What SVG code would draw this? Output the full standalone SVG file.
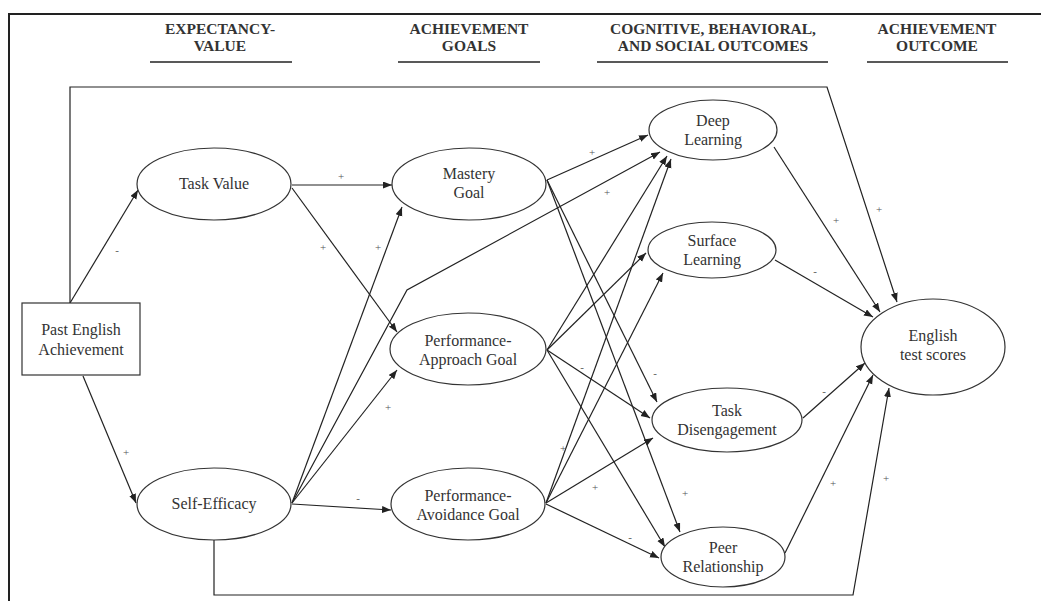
<svg xmlns="http://www.w3.org/2000/svg" width="1041" height="601" viewBox="0 0 1041 601">
  <defs>
    <marker id="arrow" markerUnits="userSpaceOnUse" markerWidth="10" markerHeight="8" refX="9" refY="3.5" orient="auto">
      <path d="M0,0 L9,3.5 L0,7 z" fill="#222"/>
    </marker>
    <style>
      .head { font-family: "Liberation Serif", "Times New Roman", serif; font-size: 15.5px; font-weight: bold; fill: #333; text-anchor: middle; }
      .rule { stroke: #222; stroke-width: 1.6; }
      .node { fill: #fff; stroke: #333; stroke-width: 1.2; }
      .label { font-family: "Liberation Serif", "Times New Roman", serif; font-size: 16px; fill: #333; text-anchor: middle; }
      .sign { font-family: "Liberation Serif", "Times New Roman", serif; font-size: 11px; fill: #555; text-anchor: middle; dominant-baseline: central; }
      .edge { fill: none; stroke: #222; stroke-width: 1.2; marker-end: url(#arrow); }
    </style>
  </defs>

  <rect width="1041" height="601" fill="#fff"/>

  <!-- outer frame -->
  <path d="M9,601 L9,14 L1041,14" fill="none" stroke="#222" stroke-width="2"/>

  <!-- column headings -->
  <g id="headings">
    <text class="head" x="220" y="34">EXPECTANCY-</text>
    <text class="head" x="220" y="51">VALUE</text>
    <line class="rule" x1="150" y1="62" x2="292" y2="62"/>
    <text class="head" x="469" y="34">ACHIEVEMENT</text>
    <text class="head" x="469" y="51">GOALS</text>
    <line class="rule" x1="398" y1="62" x2="540" y2="62"/>
    <text class="head" x="713" y="34">COGNITIVE, BEHAVIORAL,</text>
    <text class="head" x="713" y="51">AND SOCIAL OUTCOMES</text>
    <line class="rule" x1="597" y1="62" x2="828" y2="62"/>
    <text class="head" x="937" y="34">ACHIEVEMENT</text>
    <text class="head" x="937" y="51">OUTCOME</text>
    <line class="rule" x1="867" y1="62" x2="1008" y2="62"/>
  </g>

  <!-- connectors -->
  <g id="connectors">
    <path class="edge" d="M70,303 L138,190"/>
    <path class="edge" d="M83,376 L136,503"/>
    <path class="edge" d="M292,185 L392,185"/>
    <path class="edge" d="M292,188 L397,332"/>
    <path class="edge" d="M292,503 L402,207"/>
    <path class="edge" d="M292,503 L407,290 L660,152"/>
    <path class="edge" d="M292,503 L397,370"/>
    <path class="edge" d="M292,504 L391,510"/>
    <path class="edge" d="M547,180 L648,135"/>
    <path class="edge" d="M547,180 L657,402"/>
    <path class="edge" d="M547,180 L680,532"/>
    <path class="edge" d="M547,350 L667,156"/>
    <path class="edge" d="M547,350 L646,253"/>
    <path class="edge" d="M547,350 L650,418"/>
    <path class="edge" d="M547,350 L665,547"/>
    <path class="edge" d="M546,503 L671,159"/>
    <path class="edge" d="M546,503 L663,273"/>
    <path class="edge" d="M546,503 L653,438"/>
    <path class="edge" d="M546,504 L659,558"/>
    <path class="edge" d="M774,147 L880,312"/>
    <path class="edge" d="M775,260 L873,317"/>
    <path class="edge" d="M803,418 L865,363"/>
    <path class="edge" d="M785,553 L873,375"/>
    <path class="edge" d="M70,303 L70,87 L827,87 L897,302"/>
    <path class="edge" d="M214,540 L214,595 L853,595 L889,388"/>
  </g>

  <!-- path signs -->
  <g id="signs">
    <text class="sign" x="117" y="250">-</text>
    <text class="sign" x="126" y="452">+</text>
    <text class="sign" x="341" y="176">+</text>
    <text class="sign" x="323" y="247">+</text>
    <text class="sign" x="378" y="247">+</text>
    <text class="sign" x="388" y="407">+</text>
    <text class="sign" x="358" y="498">-</text>
    <text class="sign" x="592" y="152">+</text>
    <text class="sign" x="607" y="192">+</text>
    <text class="sign" x="582" y="367">-</text>
    <text class="sign" x="655" y="373">-</text>
    <text class="sign" x="563" y="448">+</text>
    <text class="sign" x="595" y="487">+</text>
    <text class="sign" x="685" y="493">+</text>
    <text class="sign" x="630" y="537">-</text>
    <text class="sign" x="836" y="220">+</text>
    <text class="sign" x="879" y="209">+</text>
    <text class="sign" x="815" y="271">-</text>
    <text class="sign" x="824" y="391">-</text>
    <text class="sign" x="833" y="483">+</text>
    <text class="sign" x="886" y="478">+</text>
  </g>

  <!-- nodes -->
  <g id="past-english">
    <rect class="node" x="22" y="303" width="118" height="72"/>
    <text class="label" x="81" y="335">Past English</text>
    <text class="label" x="81" y="355">Achievement</text>
  </g>
  <g id="task-value">
    <ellipse class="node" cx="214" cy="184" rx="77" ry="36"/>
    <text class="label" x="214" y="189">Task Value</text>
  </g>
  <g id="self-efficacy">
    <ellipse class="node" cx="214" cy="504" rx="77" ry="36"/>
    <text class="label" x="214" y="509">Self-Efficacy</text>
  </g>
  <g id="mastery-goal">
    <ellipse class="node" cx="469" cy="184" rx="77" ry="36"/>
    <text class="label" x="469" y="179">Mastery</text>
    <text class="label" x="469" y="198">Goal</text>
  </g>
  <g id="performance-approach">
    <ellipse class="node" cx="468" cy="349" rx="78" ry="36"/>
    <text class="label" x="468" y="346">Performance-</text>
    <text class="label" x="468" y="365">Approach Goal</text>
  </g>
  <g id="performance-avoidance">
    <ellipse class="node" cx="468" cy="504" rx="77" ry="36"/>
    <text class="label" x="468" y="501">Performance-</text>
    <text class="label" x="468" y="520">Avoidance Goal</text>
  </g>
  <g id="deep-learning">
    <ellipse class="node" cx="713" cy="130" rx="64" ry="30"/>
    <text class="label" x="713" y="126">Deep</text>
    <text class="label" x="713" y="145">Learning</text>
  </g>
  <g id="surface-learning">
    <ellipse class="node" cx="712" cy="250" rx="64" ry="28"/>
    <text class="label" x="712" y="246">Surface</text>
    <text class="label" x="712" y="265">Learning</text>
  </g>
  <g id="task-disengagement">
    <ellipse class="node" cx="727" cy="420" rx="75" ry="32"/>
    <text class="label" x="727" y="416">Task</text>
    <text class="label" x="727" y="435">Disengagement</text>
  </g>
  <g id="peer-relationship">
    <ellipse class="node" cx="723" cy="557" rx="62" ry="30"/>
    <text class="label" x="723" y="553">Peer</text>
    <text class="label" x="723" y="572">Relationship</text>
  </g>
  <g id="english-scores">
    <ellipse class="node" cx="933" cy="347" rx="72" ry="48"/>
    <text class="label" x="933" y="341">English</text>
    <text class="label" x="933" y="360">test scores</text>
  </g>
</svg>
